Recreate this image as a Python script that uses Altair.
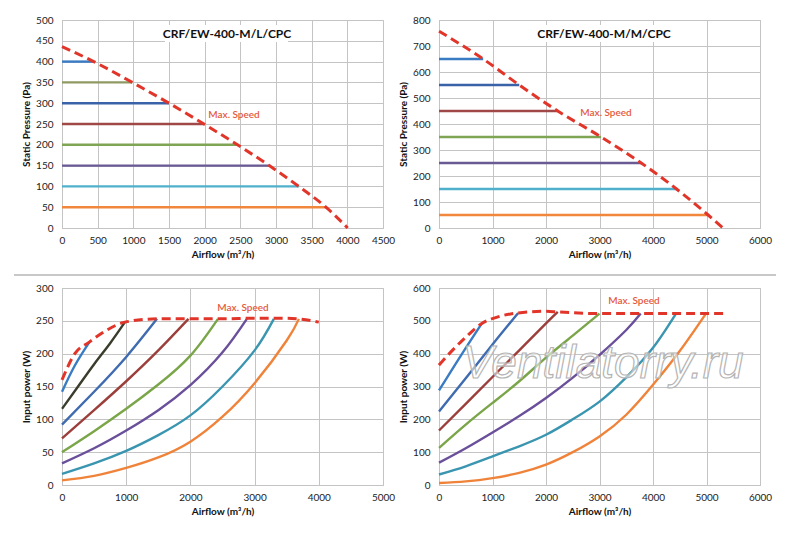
import pandas as pd
import altair as alt

# ---- top-left: CRF/EW-400-M/L/CPC, static pressure ----
tl_title = "CRF/EW-400-M/L/CPC"
tl_pressure = [400, 350, 300, 250, 200, 150, 100, 50]
tl_flow_end = [445, 985, 1500, 1990, 2460, 2905, 3320, 3700]
tl_colors = ['#3a7cc4', '#8f9a62', '#3a62a8', '#a04848', '#7ea454', '#6a5a94', '#4fb0cc', '#f0873c']
tl_max_x = [0, 445, 985, 1500, 1990, 2460, 2905, 3320, 3700, 4005]
tl_max_y = [436, 400, 350, 300, 250, 200, 150, 100, 50, 0]
tl_xticks = [0, 500, 1000, 1500, 2000, 2500, 3000, 3500, 4000, 4500]
tl_yticks = [0, 50, 100, 150, 200, 250, 300, 350, 400, 450, 500]

# ---- top-right: CRF/EW-400-M/M/CPC, static pressure ----
tr_title = "CRF/EW-400-M/M/CPC"
tr_pressure = [650, 550, 450, 350, 250, 150, 50]
tr_flow_end = [825, 1500, 2220, 3030, 3780, 4440, 5030]
tr_colors = ['#3a7cc4', '#3a62a8', '#a04848', '#7ea454', '#6a5a94', '#4fb0cc', '#f0873c']
tr_max_x = [0, 825, 1500, 2220, 3030, 3780, 4440, 5030, 5310]
tr_max_y = [757, 650, 550, 450, 350, 250, 150, 50, 0]
tr_xticks = [0, 1000, 2000, 3000, 4000, 5000, 6000]
tr_yticks = [0, 100, 200, 300, 400, 500, 600, 700, 800]

# ---- bottom-left: input power, M/L ----
bl_x = [[0, 200, 430],
        [0, 250, 500, 750, 980],
        [0, 500, 1000, 1480],
        [0, 500, 1000, 1500, 1970],
        [0, 500, 1000, 1500, 2000, 2430],
        [0, 500, 1000, 1500, 2000, 2500, 2880],
        [0, 500, 1000, 1500, 2000, 2500, 3000, 3300],
        [0, 500, 1000, 1500, 2000, 2500, 3000, 3500, 3690]]
bl_y = [[142, 182, 218],
        [116, 150, 184, 216, 248],
        [92, 142, 195, 253],
        [71, 114, 158, 205, 253],
        [50, 82, 116, 153, 197, 253],
        [33, 56, 83, 114, 152, 202, 253],
        [17, 33, 52, 76, 106, 150, 205, 253],
        [7, 14, 26, 42, 66, 104, 155, 220, 253]]
bl_colors = ['#3a7cc4', '#3b3d2c', '#3f6bb0', '#9c3f3b', '#7aa548', '#6a4f9a', '#3a95b0', '#f0833a']
bl_max_x = [0, 200, 430, 700, 980, 1480, 2000, 2500, 3000, 3500, 3690, 4000]
bl_max_y = [160, 200, 218, 236, 248, 253, 253, 253, 254, 254, 253, 248]
bl_xticks = [0, 1000, 2000, 3000, 4000, 5000]
bl_yticks = [0, 50, 100, 150, 200, 250, 300]

# ---- bottom-right: input power, M/M ----
br_x = [[0, 400, 800],
        [0, 500, 1000, 1480],
        [0, 500, 1000, 1500, 2000, 2220],
        [0, 500, 1000, 1500, 2000, 2500, 3000],
        [0, 500, 1000, 1500, 2000, 2500, 3000, 3500, 3770],
        [0, 500, 1000, 1500, 2000, 2500, 3000, 3500, 4000, 4430],
        [0, 500, 1000, 1500, 2000, 2500, 3000, 3500, 4000, 4500, 4990]]
br_y = [[288, 392, 492],
        [224, 325, 428, 524],
        [166, 247, 329, 410, 492, 527],
        [113, 184, 250, 316, 388, 455, 522],
        [68, 112, 160, 210, 265, 327, 396, 472, 522],
        [32, 57, 87, 118, 153, 200, 254, 328, 418, 522],
        [6, 11, 21, 37, 62, 100, 148, 214, 305, 408, 522]]
br_colors = ['#3a7cc4', '#3f6bb0', '#9c3f3b', '#7aa548', '#6a4f9a', '#3a95b0', '#f0833a']
br_max_x = [0, 250, 500, 800, 1100, 1480, 2000, 2220, 3000, 4000, 5000, 5320]
br_max_y = [365, 410, 450, 492, 512, 524, 529, 527, 522, 522, 522, 522]
br_xticks = [0, 1000, 2000, 3000, 4000, 5000, 6000]
br_yticks = [0, 100, 200, 300, 400, 500, 600]

FONT = 'Lato'
RED = '#e2352a'
W = 321


def curves_df(xs, ys):
    rows = []
    for k, (xx, yy) in enumerate(zip(xs, ys)):
        for a, b in zip(xx, yy):
            rows.append({'series': f's{k}', 'x': a, 'y': b})
    return pd.DataFrame(rows)


def panel(xs, ys, colors, mx, my, xticks, yticks, ytitle, h, interp, label_xy):
    df = curves_df(xs, ys)
    mdf = pd.DataFrame({'x': mx, 'y': my})
    xsc = alt.Scale(domain=[xticks[0], xticks[-1]], nice=False)
    ysc = alt.Scale(domain=[yticks[0], yticks[-1]], nice=False)
    xenc = alt.X('x:Q', scale=xsc, axis=alt.Axis(values=xticks, title='Airflow (m³/h)',
                                                 format='d', labelOverlap=False))
    yenc = alt.Y('y:Q', scale=ysc, axis=alt.Axis(values=yticks, title=ytitle,
                                                 format='d', labelOverlap=False))
    lines = alt.Chart(df).mark_line(strokeWidth=2.4, interpolate=interp).encode(
        x=xenc, y=yenc,
        color=alt.Color('series:N', scale=alt.Scale(domain=[f's{k}' for k in range(len(colors))],
                                                    range=colors), legend=None),
    )
    maxline = alt.Chart(mdf).mark_line(color=RED, strokeWidth=3, strokeDash=[9, 5],
                                       interpolate='monotone').encode(x=xenc, y=yenc)
    one = pd.DataFrame({'a': [0]})
    label = alt.Chart(one).mark_text(text='Max. Speed', font=FONT, fontSize=10, color='#e55a3c',
                                     fontWeight=600).encode(
        x=alt.value(label_xy[0]), y=alt.value(label_xy[1]))
    return [lines, maxline, label]


def title_box(text):
    one = pd.DataFrame({'a': [0]})
    box = alt.Chart(one).mark_rect(color='white').encode(
        x=alt.value(103), x2=alt.value(226), y=alt.value(5), y2=alt.value(22))
    txt = alt.Chart(one).mark_text(text=text, font=FONT, fontSize=12, fontWeight='bold',
                                   color='#111').encode(x=alt.value(165), y=alt.value(13.5))
    return [box, txt]


tl = alt.layer(*panel([[0, e] for e in tl_flow_end], [[p, p] for p in tl_pressure], tl_colors,
                      tl_max_x, tl_max_y, tl_xticks, tl_yticks, 'Static Pressure (Pa)', 208,
                      'linear', (172, 95)),
               *title_box(tl_title)).properties(width=W, height=208)

tr = alt.layer(*panel([[0, e] for e in tr_flow_end], [[p, p] for p in tr_pressure], tr_colors,
                      tr_max_x, tr_max_y, tr_xticks, tr_yticks, 'Static Pressure (Pa)', 208,
                      'linear', (167, 93)),
               *title_box(tr_title)).properties(width=W, height=208)

sep = alt.Chart(pd.DataFrame({'a': [0]})).mark_rule(color='#c8c8c8', strokeWidth=2).encode(
    x=alt.value(-48), x2=alt.value(714), y=alt.value(-13))
bl = alt.layer(*panel(bl_x, bl_y, bl_colors, bl_max_x, bl_max_y, bl_xticks, bl_yticks,
                      'Input power (W)', 197, 'natural', (181, 20)),
               sep).properties(width=W, height=197)

wm = alt.Chart(pd.DataFrame({'a': [0]})).mark_text(
    text='Ventilatorry.ru', font='Liberation Sans', fontSize=46, fontStyle='italic',
    fill='white', fillOpacity=0.55, stroke='#b4b4b4', strokeWidth=1.2).encode(
    x=alt.value(164), y=alt.value(76))
br = alt.layer(*panel(br_x, br_y, br_colors, br_max_x, br_max_y, br_xticks, br_yticks,
                      'Input power (W)', 197, 'natural', (195, 13)),
               wm).properties(width=W, height=197)

chart = alt.concat(tl, tr, bl, br, columns=2, spacing={'row': 60, 'column': 56},
                   bounds='flush').resolve_scale(color='independent').properties(
    padding={'left': 4, 'top': 6, 'right': 5, 'bottom': 5}
).configure_view(stroke='#c4c4c4', strokeWidth=1).configure_axis(
    gridColor='#c4c4c4', gridWidth=1, domainColor='#c4c4c4', ticks=False,
    labelFont=FONT, labelFontSize=10, labelColor='#222', labelOverlap=False, labelFlush=False,
    titleFont=FONT, titleFontSize=10, titleFontWeight='bold', titleColor='#111'
).configure_axisX(labelPadding=7, titlePadding=4).configure_axisY(labelPadding=9, titlePadding=4)

chart.save("out.html", embed_options={"renderer": "svg", "actions": False})
